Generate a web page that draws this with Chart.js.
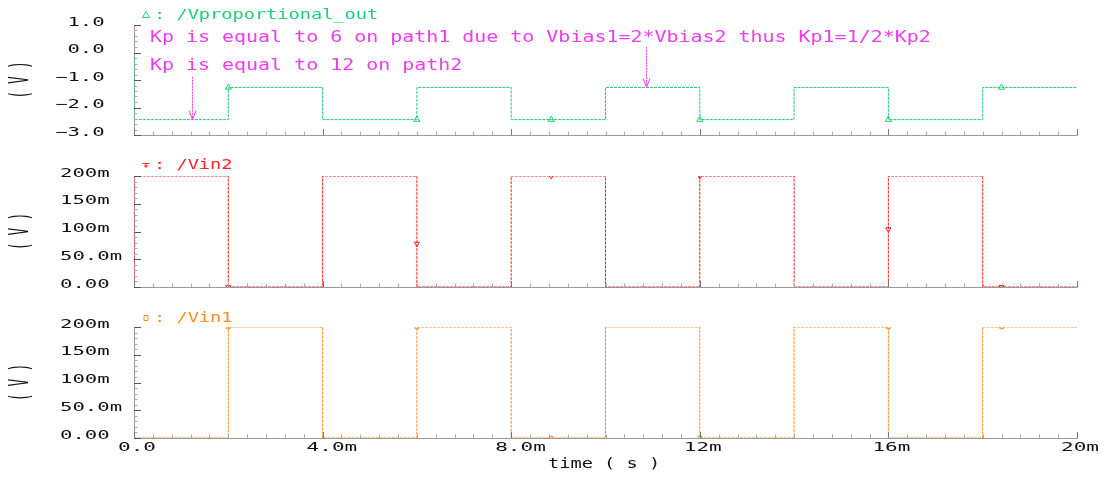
<!DOCTYPE html>
<html>
<head>
<meta charset="utf-8">
<script src="https://cdn.jsdelivr.net/npm/chart.js@4"></script>
<style>
  html, body { margin: 0; padding: 0; background: #ffffff; }
  #wrap { position: relative; width: 1113px; height: 478px; overflow: hidden; }
  canvas { position: absolute; left: 0; }
</style>
</head>
<body>
<div id="wrap">
  <canvas id="pOut" width="1113" height="145" style="top:0px"></canvas>
  <canvas id="pIn2" width="1113" height="147" style="top:145px"></canvas>
  <canvas id="pIn1" width="1113" height="186" style="top:292px"></canvas>
</div>
<script>
// ---- waveform data (time in seconds, voltage in volts) ----
const outTime = [0, 0, 0.002, 0.002, 0.004, 0.004, 0.006, 0.006, 0.008, 0.008, 0.010,
                 0.010, 0.012, 0.012, 0.014, 0.014, 0.016, 0.016, 0.018, 0.018, 0.020];
const outVolt = [0, -2.44, -2.44, -1.27, -1.27, -2.44, -2.44, -1.27, -1.27, -2.44, -2.44,
                 -1.27, -1.27, -2.44, -2.44, -1.27, -1.27, -2.44, -2.44, -1.27, -1.27];

const vin2Time = [0, 0, 0.002, 0.002, 0.004, 0.004, 0.006, 0.006, 0.008, 0.008, 0.010,
                  0.010, 0.012, 0.012, 0.014, 0.014, 0.016, 0.016, 0.018, 0.018, 0.020];
const vin2Volt = [0, 0.2, 0.2, 0, 0, 0.2, 0.2, 0, 0, 0.2, 0.2,
                  0, 0, 0.2, 0.2, 0, 0, 0.2, 0.2, 0, 0];

const vin1Time = [0, 0.002, 0.002, 0.004, 0.004, 0.006, 0.006, 0.008, 0.008, 0.010,
                  0.010, 0.012, 0.012, 0.014, 0.014, 0.016, 0.016, 0.018, 0.018, 0.020];
const vin1Volt = [0, 0, 0.2, 0.2, 0, 0, 0.2, 0.2, 0, 0,
                  0.2, 0.2, 0, 0, 0.2, 0.2, 0, 0, 0.2, 0.2];

// trace markers
const markTime = [0.002, 0.006, 0.00885, 0.012, 0.016, 0.0184];
const outMark  = [-1.27, -2.44, -2.44, -2.44, -2.44, -1.27];
const vin2Mark = [0, 0.078, 0.2, 0.2, 0.104, 0];
const vin1Mark = [0.2, 0.2, 0, 0, 0.2, 0.2];

// annotation arrows on the output trace
const noteLines  = ['Kp is equal to 6 on path1 due to Vbias1=2*Vbias2 thus Kp1=1/2*Kp2',
                    'Kp is equal to 12 on path2'];
const arrowTime  = [0.00123, 0.01086];
const arrowFrom  = [-0.88, 0.21];
const arrowTo    = [-2.44, -1.27];

// axis ticks
const timeTicks  = [0, 0.004, 0.008, 0.012, 0.016, 0.020];
const timeLabels = ['0.0', '4.0m', '8.0m', '12m', '16m', '20m'];
const outTicks   = [1, 0, -1, -2, -3];
const outLabels  = [' 1.0', ' 0.0', '\u22121.0', '\u22122.0', '\u22123.0'];
const vinTicks   = [0.2, 0.15, 0.1, 0.05, 0];
const vinLabels  = ['200m', '150m', '100m', '50.0m', '0.00'];

const GREEN = '#22cc77', RED = '#ff2222', ORANGE = '#ff8c1e', MAGENTA = '#f03cf0';
const FONT = '"DejaVu Sans Mono", "Liberation Mono", monospace';

function pts(xs, ys) { return xs.map((x, i) => ({ x: x, y: ys[i] })); }

function drawText(ctx, s, x, y, o) {
  ctx.save();
  ctx.translate(x, y);
  if (o.rot) ctx.rotate(o.rot);
  ctx.scale(o.sx || 1, o.sy || 1);
  ctx.font = o.size + 'px ' + FONT;
  ctx.fillStyle = o.color;
  ctx.textAlign = o.align || 'left';
  ctx.textBaseline = 'middle';
  ctx.fillText(s, 0, 0);
  ctx.restore();
}

function drawMarker(ctx, kind, x, y, color) {
  ctx.save();
  ctx.strokeStyle = color;
  ctx.lineWidth = 1;
  ctx.beginPath();
  if (kind === 'up') {
    ctx.moveTo(x, y - 3.5); ctx.lineTo(x + 3.5, y + 2.5); ctx.lineTo(x - 3.5, y + 2.5); ctx.closePath();
  } else if (kind === 'down') {
    ctx.moveTo(x - 3.5, y - 1.5); ctx.lineTo(x + 3.5, y - 1.5); ctx.moveTo(x, y - 1.5); ctx.lineTo(x, y + 3);
    ctx.moveTo(x - 2, y + 1); ctx.lineTo(x + 2, y + 1);
  } else {
    ctx.rect(x - 2, y - 2.5, 4, 5);
  }
  ctx.stroke();
  ctx.restore();
}

// axis ticks, tick labels, legend and notes for each panel
const decor = {
  id: 'decor',
  afterDatasetsDraw(chart, args, o) {
    const ctx = chart.ctx, ca = chart.chartArea;
    const xs = chart.scales.x, ys = chart.scales.y;
    ctx.save();
    // y ticks (inside the plot)
    const n = Math.round((o.yMax - o.yMin) / o.yStep);
    for (let i = 0; i <= n; i++) {
      const v = o.yMin + i * o.yStep;
      const py = Math.round(ys.getPixelForValue(v)) + 0.5;
      const major = i % o.yPer === 0;
      ctx.strokeStyle = major ? '#555' : '#aaa';
      ctx.lineWidth = 1;
      ctx.beginPath();
      ctx.moveTo(ca.left, py);
      ctx.lineTo(ca.left + (major ? 7 : 3.5), py);
      ctx.stroke();
    }
    // x ticks (inside the plot)
    for (let i = 0; i <= 50; i++) {
      const px = Math.round(xs.getPixelForValue(i * 0.0004)) + 0.5;
      const major = i % 10 === 0;
      ctx.strokeStyle = major ? '#777' : '#aaa';
      ctx.beginPath();
      ctx.moveTo(px, ca.bottom);
      ctx.lineTo(px, ca.bottom - (major ? 6 : 3.5));
      ctx.stroke();
    }
    // y tick labels
    o.yTicks.forEach((v, i) => {
      drawText(ctx, o.yLabels[i], o.labelX, ys.getPixelForValue(v) - 2.5,
               { size: 12, sx: 1.72, color: '#111' });
    });
    // vertical unit label
    drawText(ctx, '( V )', 21, (ca.top + ca.bottom) / 2,
             { size: 13, sx: 0.95, sy: 2.0, rot: -Math.PI / 2, color: '#111', align: 'center' });
    // time labels
    if (o.timeLabels) {
      timeTicks.forEach((v, i) => {
        drawText(ctx, timeLabels[i], xs.getPixelForValue(v) - 16, ca.bottom + 10,
                 { size: 12, sx: 1.75, color: '#111' });
      });
      drawText(ctx, 'time ( s )', 548, ca.bottom + 26, { size: 14, sx: 1.33, color: '#111' });
    }
    // legend
    drawMarker(ctx, o.legend.marker, 146, o.legend.y, o.legend.color);
    drawText(ctx, ': ' + chart.data.datasets[0].label, 154, o.legend.y,
             { size: 14, sx: 1.33, color: o.legend.color });
    // notes and arrows
    if (o.notes) {
      drawText(ctx, noteLines[0], 150, 38, { size: 15, sx: 1.33, color: MAGENTA });
      drawText(ctx, noteLines[1], 150, 66, { size: 15, sx: 1.33, color: MAGENTA });
      ctx.strokeStyle = MAGENTA;
      ctx.lineWidth = 1;
      arrowTime.forEach((t, i) => {
        const px = Math.round(xs.getPixelForValue(t)) + 0.5;
        const y0 = ys.getPixelForValue(arrowFrom[i]);
        const y1 = ys.getPixelForValue(arrowTo[i]);
        ctx.setLineDash([2, 1]);
        ctx.beginPath(); ctx.moveTo(px, y0); ctx.lineTo(px, y1); ctx.stroke();
        ctx.setLineDash([]);
        ctx.beginPath();
        ctx.moveTo(px - 3.5, y1 - 9); ctx.lineTo(px, y1); ctx.lineTo(px + 3.5, y1 - 9);
        ctx.stroke();
      });
    }
    ctx.restore();
  }
};

function makePanel(id, opts) {
  return new Chart(document.getElementById(id), {
    type: 'line',
    data: {
      datasets: [
        {
          label: opts.label,
          data: opts.trace,
          borderColor: opts.color,
          borderWidth: 1,
          borderDash: [3, 1],
          pointRadius: 0,
          tension: 0,
          order: 1
        },
        {
          label: opts.label + ' markers',
          data: opts.marks,
          showLine: false,
          pointStyle: opts.pointStyle,
          rotation: opts.rotation || 0,
          pointRadius: opts.pointRadius,
          pointBorderWidth: 1,
          pointBorderColor: opts.color,
          pointBackgroundColor: 'rgba(0,0,0,0)',
          order: 0
        }
      ]
    },
    options: {
      responsive: false,
      animation: false,
      events: [],
      layout: { padding: { top: opts.padTop, right: 36, left: 0, bottom: 0 } },
      plugins: {
        legend: { display: false },
        tooltip: { enabled: false },
        decor: opts.decor
      },
      scales: {
        x: {
          type: 'linear',
          min: 0, max: 0.02,
          grid: { display: false },
          border: { display: true, color: '#9a9a9a', width: 1 },
          ticks: { display: false },
          afterFit(s) { s.height = opts.xHeight; }
        },
        y: {
          type: 'linear',
          min: opts.yMin, max: opts.yMax,
          grid: { display: false },
          border: { display: true, color: '#9a9a9a', width: 1 },
          ticks: { display: false },
          afterFit(s) { s.width = 134; }
        }
      }
    },
    plugins: [decor]
  });
}

makePanel('pOut', {
  label: '/Vproportional_out', color: GREEN,
  trace: pts(outTime, outVolt), marks: pts(markTime, outMark),
  pointStyle: 'triangle', pointRadius: 3.5,
  yMin: -3, yMax: 1, padTop: 25, xHeight: 10,
  decor: { yMin: -3, yMax: 1, yStep: 0.2, yPer: 5, yTicks: outTicks, yLabels: outLabels,
           labelX: 55, legend: { marker: 'up', y: 15, color: GREEN }, notes: true }
});

makePanel('pIn2', {
  label: '/Vin2', color: RED,
  trace: pts(vin2Time, vin2Volt), marks: pts(markTime, vin2Mark),
  pointStyle: 'triangle', rotation: 180, pointRadius: 3,
  yMin: 0, yMax: 0.2, padTop: 31, xHeight: 5,
  decor: { yMin: 0, yMax: 0.2, yStep: 0.01, yPer: 5, yTicks: vinTicks, yLabels: vinLabels,
           labelX: 60, legend: { marker: 'down', y: 20, color: RED } }
});

makePanel('pIn1', {
  label: '/Vin1', color: ORANGE,
  trace: pts(vin1Time, vin1Volt), marks: pts(markTime, vin1Mark),
  pointStyle: 'rect', pointRadius: 2.5,
  yMin: 0, yMax: 0.2, padTop: 35, xHeight: 40,
  decor: { yMin: 0, yMax: 0.2, yStep: 0.01, yPer: 5, yTicks: vinTicks, yLabels: vinLabels,
           labelX: 60, legend: { marker: 'rect', y: 26, color: ORANGE }, timeLabels: true }
});
</script>
</body>
</html>
